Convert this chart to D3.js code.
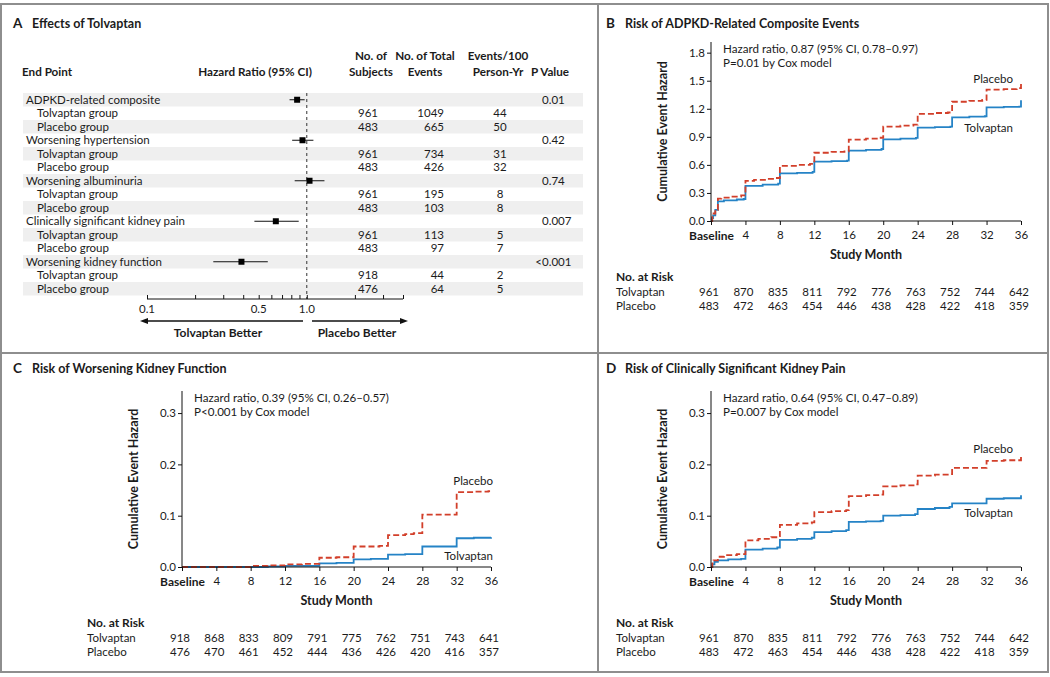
<!DOCTYPE html>
<html><head><meta charset="utf-8">
<script src="https://cdn.jsdelivr.net/npm/d3@7"></script>
<style>
body{margin:0;background:#fff}
svg text{font-family:Lato,'Open Sans',sans-serif;fill:#1b1b1b;font-size:11.5px}
.b{font-weight:700;font-size:12px}
</style></head>
<body><svg id="c" width="1050" height="677"></svg>
<script>
// ---------- Panel A data ----------
const endPoints = ["ADPKD-related composite","Worsening hypertension","Worsening albuminuria","Clinically significant kidney pain","Worsening kidney function"];
const hrValues = [0.87,0.94,1.04,0.64,0.39];
const hrLower  = [0.78,0.81,0.84,0.47,0.26];
const hrUpper  = [0.97,1.10,1.29,0.89,0.57];
const pValues  = ["0.01","0.42","0.74","0.007","<0.001"];
const subjectsTolvaptan = [961,961,961,961,918];
const subjectsPlacebo   = [483,483,483,483,476];
const eventsTolvaptan   = [1049,734,195,113,44];
const eventsPlacebo     = [665,426,103,97,64];
const ratesTolvaptan    = [44,31,8,5,2];
const ratesPlacebo      = [50,32,8,7,5];
const hrTicks = [0.1,0.2,0.3,0.4,0.5,0.6,0.7,0.8,0.9,1,2,3,4];
const hrTickLabels = {"0.1":"0.1","0.5":"0.5","1":"1.0"};

// ---------- KM data ----------
const monthTicks = [0,4,8,12,16,20,24,28,32,36];
const monthLabels = ["Baseline","4","8","12","16","20","24","28","32","36"];

const bPlacebo = [[0,0],[0.15,0.04],[0.3,0.08],[0.5,0.12],[0.8,0.24],[1.2,0.25],[2.5,0.26],[3.5,0.275],[4,0.43],[5,0.44],[6.5,0.45],[7.5,0.46],[8,0.59],[10,0.60],[11.5,0.61],[12,0.73],[14,0.74],[15.5,0.745],[16,0.87],[18,0.88],[19.5,0.89],[20,1.01],[22,1.02],[23.5,1.03],[24,1.145],[26,1.155],[27.5,1.16],[28,1.275],[30,1.285],[31.5,1.295],[32,1.405],[34,1.41],[35.5,1.42],[36,1.49]];
const bTolvaptan = [[0,0],[0.1,0.03],[0.25,0.06],[0.5,0.12],[0.8,0.21],[1.5,0.22],[3,0.23],[3.8,0.235],[4,0.375],[6,0.39],[7.8,0.40],[8,0.51],[10,0.515],[11.8,0.525],[12,0.635],[14,0.64],[15.8,0.645],[16,0.752],[18,0.76],[19.8,0.77],[20,0.873],[22,0.88],[23.8,0.888],[24,0.998],[26,1.003],[27.8,1.009],[28,1.109],[30,1.115],[31.8,1.12],[32,1.216],[34,1.22],[35.8,1.223],[36,1.29]];
const bRiskTolvaptan = [961,870,835,811,792,776,763,752,744,642];
const bRiskPlacebo   = [483,472,463,454,446,438,428,422,418,359];

const cPlacebo = [[0,0],[8,0.002],[10,0.003],[12,0.005],[14,0.006],[16,0.018],[18,0.019],[20,0.040],[22,0.040],[23,0.041],[24,0.062],[26,0.064],[27,0.066],[28,0.102],[30,0.102],[32,0.146],[34,0.147],[35.7,0.148],[36,0.150]];
const cTolvaptan = [[0,0],[10,0.001],[12,0.002],[14,0.002],[16,0.007],[18,0.008],[20,0.015],[22,0.016],[24,0.024],[26,0.025],[28,0.040],[30,0.040],[32,0.056],[34,0.057],[36,0.058]];
const cRiskTolvaptan = [918,868,833,809,791,775,762,751,743,641];
const cRiskPlacebo   = [476,470,461,452,444,436,426,420,416,357];

const dPlacebo = [[0,0],[0.15,0.007],[0.3,0.013],[0.8,0.020],[1.5,0.023],[3,0.025],[4,0.052],[5.5,0.055],[7,0.058],[7.7,0.060],[8,0.082],[10,0.085],[11.7,0.087],[12,0.107],[14,0.109],[15.7,0.111],[16,0.138],[18,0.140],[19.7,0.141],[20,0.157],[22,0.159],[23.7,0.161],[24,0.178],[26,0.180],[27.7,0.181],[28,0.193],[30,0.193],[32,0.207],[34,0.208],[35.8,0.208],[36,0.215]];
const dTolvaptan = [[0,0],[0.15,0.005],[0.4,0.010],[0.8,0.013],[2,0.015],[3.5,0.016],[4,0.034],[6,0.036],[7.7,0.038],[8,0.053],[10,0.055],[11.7,0.057],[12,0.068],[14,0.070],[15.7,0.072],[16,0.088],[18,0.089],[19.7,0.090],[20,0.100],[22,0.101],[23.7,0.103],[24,0.113],[26,0.115],[27.7,0.117],[28,0.124],[30,0.124],[32,0.133],[34,0.134],[35.8,0.134],[36,0.140]];
const dRiskTolvaptan = [961,870,835,811,792,776,763,752,744,642];
const dRiskPlacebo   = [483,472,463,454,446,438,428,422,418,359];

const RED = "#d23f2a", BLUE = "#2583c6", FRAME = "#8e8e8e";
const FONT = "Lato,'Open Sans',sans-serif";

const svg = d3.select("#c");

// ---------- Frame ----------
svg.append("rect").attr("x",1).attr("y",4).attr("width",1047).attr("height",668)
  .attr("fill","none").attr("stroke",FRAME).attr("stroke-width",2);
svg.append("line").attr("x1",598).attr("x2",598).attr("y1",4).attr("y2",672).attr("stroke",FRAME).attr("stroke-width",2);
svg.append("line").attr("x1",1).attr("x2",1049).attr("y1",353).attr("y2",353).attr("stroke",FRAME).attr("stroke-width",2);

function panelTitle(x, y, letter, title){
  svg.append("text").attr("class","b").attr("x",x).attr("y",y).style("font-size","13.5px").text(letter);
  svg.append("text").attr("class","b").attr("x",x+19).attr("y",y).style("font-size","12.5px").text(title);
}

// ---------- Panel A ----------
panelTitle(13, 28, "A", "Effects of Tolvaptan");

const rows = [];
endPoints.forEach((e,i)=>{
  rows.push({label:e, indent:false, i});
  rows.push({label:"Tolvaptan group", indent:true, n:subjectsTolvaptan[i], ev:eventsTolvaptan[i], rate:ratesTolvaptan[i]});
  rows.push({label:"Placebo group", indent:true, n:subjectsPlacebo[i], ev:eventsPlacebo[i], rate:ratesPlacebo[i]});
});
const rowTop = 93, rowH = 13.5;
const gA = svg.append("g");
rows.forEach((r,k)=>{
  const y = rowTop + k*rowH;
  if(k%2===0) gA.append("rect").attr("x",23).attr("y",y).attr("width",560).attr("height",rowH).attr("fill","#efefef");
});
const xHR = d3.scaleLog().domain([0.1,4]).range([147,403]);
gA.append("line").attr("x1",xHR(1)).attr("x2",xHR(1)).attr("y1",rowTop).attr("y2",299)
  .attr("stroke","#333").attr("stroke-width",1).attr("stroke-dasharray","3,3");
rows.forEach((r,k)=>{
  const y = rowTop + k*rowH, cy = y + rowH/2, base = cy + 4;
  gA.append("text").attr("x", r.indent?37:26).attr("y",base).text(r.label);
  if(r.indent){
    gA.append("text").attr("x",378).attr("y",base).attr("text-anchor","end").text(r.n);
    gA.append("text").attr("x",444).attr("y",base).attr("text-anchor","end").text(r.ev);
    gA.append("text").attr("x",500).attr("y",base).attr("text-anchor","middle").text(r.rate);
  } else {
    const i = r.i;
    gA.append("line").attr("x1",xHR(hrLower[i])).attr("x2",xHR(hrUpper[i])).attr("y1",cy).attr("y2",cy).attr("stroke","#111").attr("stroke-width",1);
    gA.append("rect").attr("x",xHR(hrValues[i])-3).attr("y",cy-3).attr("width",6).attr("height",6).attr("fill","#000");
    const p = pValues[i];
    if(p.startsWith("<")){
      gA.append("text").attr("x",542).attr("y",base).attr("text-anchor","end").text("<");
      gA.append("text").attr("x",542).attr("y",base).text(p.slice(1));
    } else {
      gA.append("text").attr("x",542).attr("y",base).text(p);
    }
  }
});
const hdr = [
  {x:22, lines:["End Point"], anchor:"start"},
  {x:255, lines:["Hazard Ratio (95% CI)"], anchor:"middle"},
  {x:371, lines:["No. of","Subjects"], anchor:"middle"},
  {x:425, lines:["No. of Total","Events"], anchor:"middle"},
  {x:498, lines:["Events/100","Person-Yr"], anchor:"middle"},
  {x:550, lines:["P Value"], anchor:"middle"}
];
hdr.forEach(h=>{
  h.lines.forEach((l,j)=>{
    const yy = 76 - (h.lines.length-1-j)*16;
    gA.append("text").attr("class","b").attr("x",h.x).attr("y",yy).attr("text-anchor",h.anchor).style("font-size","11.7px").text(l);
  });
});
const axA = d3.axisTop(xHR).tickValues(hrTicks).tickSize(4).tickFormat("");
const gAx = gA.append("g").attr("transform","translate(0,299)").call(axA);
gAx.select(".domain").attr("d",`M${xHR(0.1)},0H${xHR(4)}`).attr("stroke","#111");
gAx.selectAll(".tick line").attr("stroke","#111");
hrTicks.filter(t=>hrTickLabels[String(t)]).forEach(t=>{
  gA.append("text").attr("x",xHR(t)).attr("y",313).attr("text-anchor","middle").text(hrTickLabels[String(t)]);
});
function arrow(x1,x2,y){
  const dir = Math.sign(x2-x1);
  gA.append("line").attr("x1",x1).attr("x2",x2-dir*6).attr("y1",y).attr("y2",y).attr("stroke","#111").attr("stroke-width",1.3);
  gA.append("path").attr("d",`M${x2},${y}L${x2-dir*8},${y-3}L${x2-dir*8},${y+3}Z`).attr("fill","#111");
}
arrow(303,140,321);
arrow(312,408,321);
gA.append("text").attr("class","b").attr("x",218).attr("y",337).attr("text-anchor","middle").text("Tolvaptan Better");
gA.append("text").attr("class","b").attr("x",357).attr("y",337).attr("text-anchor","middle").text("Placebo Better");

// ---------- KM panels ----------
function kmPanel(o){
  const g = svg.append("g");
  panelTitle(o.tx, o.ty, o.letter, o.title);
  const x = d3.scaleLinear().domain([0,36]).range([o.x0,o.x1]);
  const y = d3.scaleLinear().domain([0,o.yMax]).range([o.yZero,o.yTop]);
  const line = d3.line().x(d=>x(d[0])).y(d=>y(d[1])).curve(d3.curveStepAfter);
  g.append("path").datum(o.tol).attr("d",line).attr("fill","none").attr("stroke",BLUE).attr("stroke-width",1.8);
  g.append("path").datum(o.pla).attr("d",line).attr("fill","none").attr("stroke",RED).attr("stroke-width",1.8).attr("stroke-dasharray","6,3");
  const ya = g.append("g").attr("transform",`translate(${o.x0},0)`)
     .call(d3.axisLeft(y).tickValues(o.yTicks).tickSize(4).tickPadding(2).tickFormat(d3.format(".1f")));
  ya.select(".domain").attr("d",`M0,${o.yZero}V${o.yTop}`).attr("stroke","#111");
  ya.selectAll(".tick line").attr("stroke","#111");
  ya.selectAll("text").style("font-family",FONT).style("font-size","11.5px").attr("fill","#1b1b1b");
  const xa = g.append("g").attr("transform",`translate(0,${o.yZero})`)
     .call(d3.axisBottom(x).tickValues(monthTicks).tickSize(4).tickPadding(6).tickFormat((d,i)=>monthLabels[i]));
  xa.select(".domain").attr("d",`M${o.x0},0H${o.x1}`).attr("stroke","#111");
  xa.selectAll(".tick line").attr("stroke","#111");
  xa.selectAll("text").style("font-family",FONT).style("font-size",(d,i)=>i===0?"12px":"11.5px").attr("fill","#1b1b1b")
    .style("font-weight",(d,i)=>i===0?"700":"400");
  g.append("text").attr("class","b").attr("x",(o.x0+o.x1)/2).attr("y",o.yZero+38).attr("text-anchor","middle").style("font-size","12.5px").text("Study Month");
  g.append("text").attr("class","b").attr("transform",`translate(${o.x0-44},${(o.yZero+o.yTop)/2}) rotate(-90)`)
    .attr("text-anchor","middle").style("font-size","12.5px").text("Cumulative Event Hazard");
  o.note.forEach((t,j)=>g.append("text").attr("x",o.x0+12).attr("y",o.yTop+11+j*14).style("font-size","11.6px").text(t));
  g.append("text").attr("x",o.lx).attr("y",o.plaLabelY).attr("text-anchor","end").text("Placebo");
  g.append("text").attr("x",o.lx).attr("y",o.tolLabelY).attr("text-anchor","end").text("Tolvaptan");
  const ry = o.yZero+60;
  g.append("text").attr("class","b").attr("x",o.x0-95).attr("y",ry).text("No. at Risk");
  [["Tolvaptan",o.riskT],["Placebo",o.riskP]].forEach((r,j)=>{
    const yy = ry + 15 + j*13.5;
    g.append("text").attr("x",o.x0-95).attr("y",yy).text(r[0]);
    r[1].forEach((v,i)=>g.append("text").attr("x",x(monthTicks[i])-2).attr("y",yy).attr("text-anchor","middle").text(v));
  });
}

kmPanel({letter:"B", title:"Risk of ADPKD-Related Composite Events", tx:606, ty:28,
  x0:711, x1:1021, yZero:221, yTop:42, yMax:1.914, yTicks:[0,0.3,0.6,0.9,1.2,1.5,1.8],
  pla:bPlacebo, tol:bTolvaptan, lx:1013, plaLabelY:83, tolLabelY:132,
  note:["Hazard ratio, 0.87 (95% CI, 0.78–0.97)","P=0.01 by Cox model"],
  riskT:bRiskTolvaptan, riskP:bRiskPlacebo});

kmPanel({letter:"C", title:"Risk of Worsening Kidney Function", tx:13, ty:373,
  x0:182, x1:491, yZero:567, yTop:391, yMax:0.343, yTicks:[0,0.1,0.2,0.3],
  pla:cPlacebo, tol:cTolvaptan, lx:493, plaLabelY:485, tolLabelY:560,
  note:["Hazard ratio, 0.39 (95% CI, 0.26–0.57)","P<0.001 by Cox model"],
  riskT:cRiskTolvaptan, riskP:cRiskPlacebo});

kmPanel({letter:"D", title:"Risk of Clinically Significant Kidney Pain", tx:606, ty:373,
  x0:711, x1:1021, yZero:567, yTop:391, yMax:0.343, yTicks:[0,0.1,0.2,0.3],
  pla:dPlacebo, tol:dTolvaptan, lx:1013, plaLabelY:453, tolLabelY:517,
  note:["Hazard ratio, 0.64 (95% CI, 0.47–0.89)","P=0.007 by Cox model"],
  riskT:dRiskTolvaptan, riskP:dRiskPlacebo});
</script></body></html>
